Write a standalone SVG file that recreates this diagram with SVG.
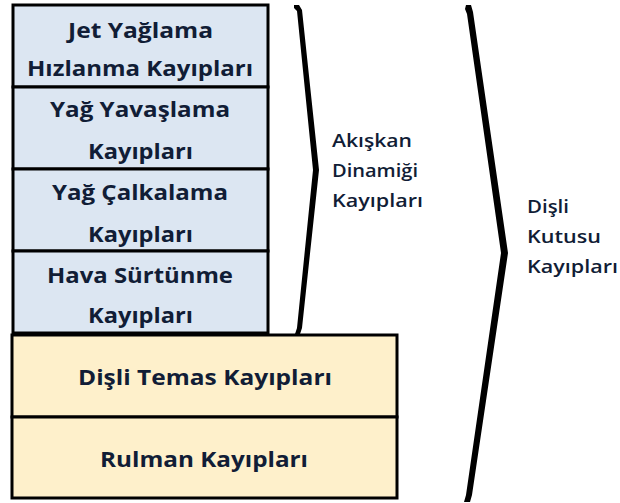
<svg xmlns="http://www.w3.org/2000/svg" width="620" height="503" viewBox="0 0 620 503">
<style>
.blue{fill:#dce6f2;stroke:#000;stroke-width:3}
.yel{fill:#fef0cb;stroke:#000;stroke-width:3}
.t{font-family:"Open Sans","Liberation Sans",sans-serif;font-weight:bold;font-size:21px;fill:#111d36;text-anchor:middle}
.l{font-family:"Open Sans","Liberation Sans",sans-serif;font-weight:600;font-size:18px;fill:#111d36}
.br{fill:#000}
</style>
<rect width="620" height="503" fill="#fff"/>
<g id="jet">
<rect class="blue" x="13" y="5" width="255" height="82"/>
<text class="t" x="140.5" y="38" textLength="145" lengthAdjust="spacingAndGlyphs">Jet Yağlama</text>
<text class="t" x="140" y="76" textLength="226" lengthAdjust="spacingAndGlyphs">Hızlanma Kayıpları</text>
</g>
<g id="yavaslama">
<rect class="blue" x="13" y="87" width="255" height="82"/>
<text class="t" x="140" y="117" textLength="180" lengthAdjust="spacingAndGlyphs">Yağ Yavaşlama</text>
<text class="t" x="140.5" y="159" textLength="105" lengthAdjust="spacingAndGlyphs">Kayıpları</text>
</g>
<g id="calkalama">
<rect class="blue" x="13" y="169" width="255" height="82"/>
<text class="t" x="140" y="200" textLength="176" lengthAdjust="spacingAndGlyphs">Yağ Çalkalama</text>
<text class="t" x="140.5" y="242" textLength="105" lengthAdjust="spacingAndGlyphs">Kayıpları</text>
</g>
<g id="hava">
<rect class="blue" x="13" y="251" width="255" height="82"/>
<text class="t" x="140" y="283" textLength="186" lengthAdjust="spacingAndGlyphs">Hava Sürtünme</text>
<text class="t" x="140.5" y="323" textLength="105" lengthAdjust="spacingAndGlyphs">Kayıpları</text>
</g>
<g id="disli-temas">
<rect class="yel" x="12" y="335" width="385" height="82"/>
<text class="t" x="205" y="385" textLength="254" lengthAdjust="spacingAndGlyphs">Dişli Temas Kayıpları</text>
</g>
<g id="rulman">
<rect class="yel" x="12" y="417" width="385" height="81"/>
<text class="t" x="204" y="467" textLength="208" lengthAdjust="spacingAndGlyphs">Rulman Kayıpları</text>
</g>
<g id="connectors">
<polygon class="br" points="294,5 299,5 302,10 319,170 302,328 300,334 295,334 297,328 313,170 297,11 294,8"/>
<polygon class="br" points="466,5 471,5 473,12 508,253 472,495 470,502 464,502 466,495 501,253 467,14 465,9"/>
</g>
<g id="akiskan">
<text class="l" x="332" y="147" textLength="80" lengthAdjust="spacingAndGlyphs">Akışkan</text>
<text class="l" x="332" y="177" textLength="86" lengthAdjust="spacingAndGlyphs">Dinamiği</text>
<text class="l" x="332" y="207" textLength="91" lengthAdjust="spacingAndGlyphs">Kayıpları</text>
</g>
<g id="disli-kutusu">
<text class="l" x="527" y="213" textLength="42" lengthAdjust="spacingAndGlyphs">Dişli</text>
<text class="l" x="527" y="243" textLength="74" lengthAdjust="spacingAndGlyphs">Kutusu</text>
<text class="l" x="527" y="273" textLength="91" lengthAdjust="spacingAndGlyphs">Kayıpları</text>
</g>
</svg>
